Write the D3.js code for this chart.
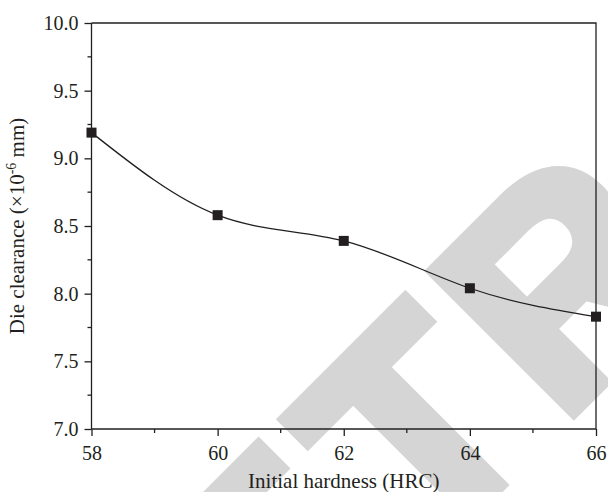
<!DOCTYPE html>
<html>
<head>
<meta charset="utf-8">
<script src="https://cdn.jsdelivr.net/npm/d3@7"></script>
<style>
  body { margin: 0; background: #fff; }
  svg text { font-family: "Liberation Serif", "Times New Roman", serif; fill: #231f20; }
</style>
</head>
<body>
<div id="chart"></div>
<script>
// data
var hardness = [58, 60, 62, 64, 66];
var clearance = [9.19, 8.58, 8.39, 8.04, 7.83];
var xTicks = [58, 60, 62, 64, 66];
var yTicks = [7.0, 7.5, 8.0, 8.5, 9.0, 9.5, 10.0];

var w = 608, h = 492;
var pLeft = 91.5, pRight = 596, pTop = 23, pBottom = 429;
var ink = "#231f20";

var svg = d3.select("#chart").append("svg")
    .attr("width", w)
    .attr("height", h);

// watermark behind the plot, "RETRACTED" rotated -45deg
var wmSize = 289, wmStroke = 13;
var wm = svg.append("text")
    .attr("x", 0).attr("y", 0)
    .style("font-family", "'Liberation Sans', Arial, sans-serif")
    .style("font-weight", "bold")
    .style("font-size", wmSize + "px")
    .style("letter-spacing", "17px")
    .style("fill", "#d5d5d5")
    .style("stroke", "#d5d5d5")
    .style("stroke-width", wmStroke)
    .style("stroke-linejoin", "miter")
    .text("RETRACTED");
// place it so the T stem / cap line land where they are in the picture
var k = Math.SQRT1_2;
var tStart = wm.node().getStartPositionOfChar(2).x;
var uc = tStart + 0.3055 * wmSize;
var dO = -9.9 - uc;
var nO = -483.4 - (0.716 * wmSize + wmStroke / 2);
wm.attr("transform", "translate(" + (k * (dO - nO)) + "," + (k * (-dO - nO)) + ") rotate(-45)");

var x = d3.scaleLinear().domain([58, 66]).range([pLeft, pRight]);
var y = d3.scaleLinear().domain([7, 10]).range([pBottom, pTop]);

// frame (top and right)
svg.append("path")
    .attr("d", "M" + pLeft + "," + pTop + "H" + pRight + "V" + pBottom)
    .attr("fill", "none")
    .attr("stroke", ink)
    .attr("stroke-width", 1.3);

// x axis
var xaxis = d3.axisBottom(x)
    .tickValues(xTicks)
    .tickSize(7)
    .tickPadding(10)
    .tickFormat(d3.format("d"));
var gx = svg.append("g")
    .attr("transform", "translate(0," + pBottom + ")")
    .call(xaxis);
gx.selectAll(".tick line").attr("stroke", ink).attr("stroke-width", 1.3);
gx.select(".domain").attr("stroke", ink).attr("stroke-width", 1.3)
    .attr("d", "M" + pLeft + ",0H" + pRight);
gx.selectAll("text").style("font-size", "20px").attr("fill", ink);
gx.selectAll(".minor").data(d3.range(59, 66, 2)).enter().append("line")
    .attr("x1", d => x(d)).attr("x2", d => x(d))
    .attr("y1", 0).attr("y2", 4)
    .attr("stroke", ink).attr("stroke-width", 1.3);

// y axis
var yaxis = d3.axisLeft(y)
    .tickValues(yTicks)
    .tickSize(7)
    .tickPadding(6)
    .tickFormat(d3.format(".1f"));
var gy = svg.append("g")
    .attr("transform", "translate(" + pLeft + ",0)")
    .call(yaxis);
gy.selectAll(".tick line").attr("stroke", ink).attr("stroke-width", 1.3);
gy.select(".domain").attr("stroke", ink).attr("stroke-width", 1.3)
    .attr("d", "M0," + pTop + "V" + pBottom);
gy.selectAll("text").style("font-size", "20px").attr("fill", ink);
gy.selectAll(".minor").data(d3.range(7.25, 10, 0.5)).enter().append("line")
    .attr("y1", d => y(d)).attr("y2", d => y(d))
    .attr("x1", 0).attr("x2", -4)
    .attr("stroke", ink).attr("stroke-width", 1.3);

// axis titles
svg.append("text")
    .attr("x", (pLeft + pRight) / 2)
    .attr("y", 488)
    .attr("text-anchor", "middle")
    .style("font-size", "21px")
    .text("Initial hardness (HRC)");

var yl = svg.append("text")
    .attr("transform", "translate(24," + (pTop + pBottom) / 2 + ") rotate(-90)")
    .attr("text-anchor", "middle")
    .style("font-size", "21px");
yl.append("tspan").text("Die clearance (\u00d710");
yl.append("tspan").attr("dy", -8).style("font-size", "14px").text("-6");
yl.append("tspan").attr("dy", 8).text(" mm)");

// curve + markers
var pts = hardness.map((d, i) => [d, clearance[i]]);
var line = d3.line()
    .x(d => x(d[0]))
    .y(d => y(d[1]))
    .curve(d3.curveNatural);

svg.append("path")
    .datum(pts)
    .attr("d", line)
    .attr("fill", "none")
    .attr("stroke", ink)
    .attr("stroke-width", 1.3);

svg.selectAll(".pt")
    .data(pts)
    .enter().append("rect")
    .attr("class", "pt")
    .attr("x", d => x(d[0]) - 5)
    .attr("y", d => y(d[1]) - 5)
    .attr("width", 10)
    .attr("height", 10)
    .attr("fill", ink);
</script>
</body>
</html>
